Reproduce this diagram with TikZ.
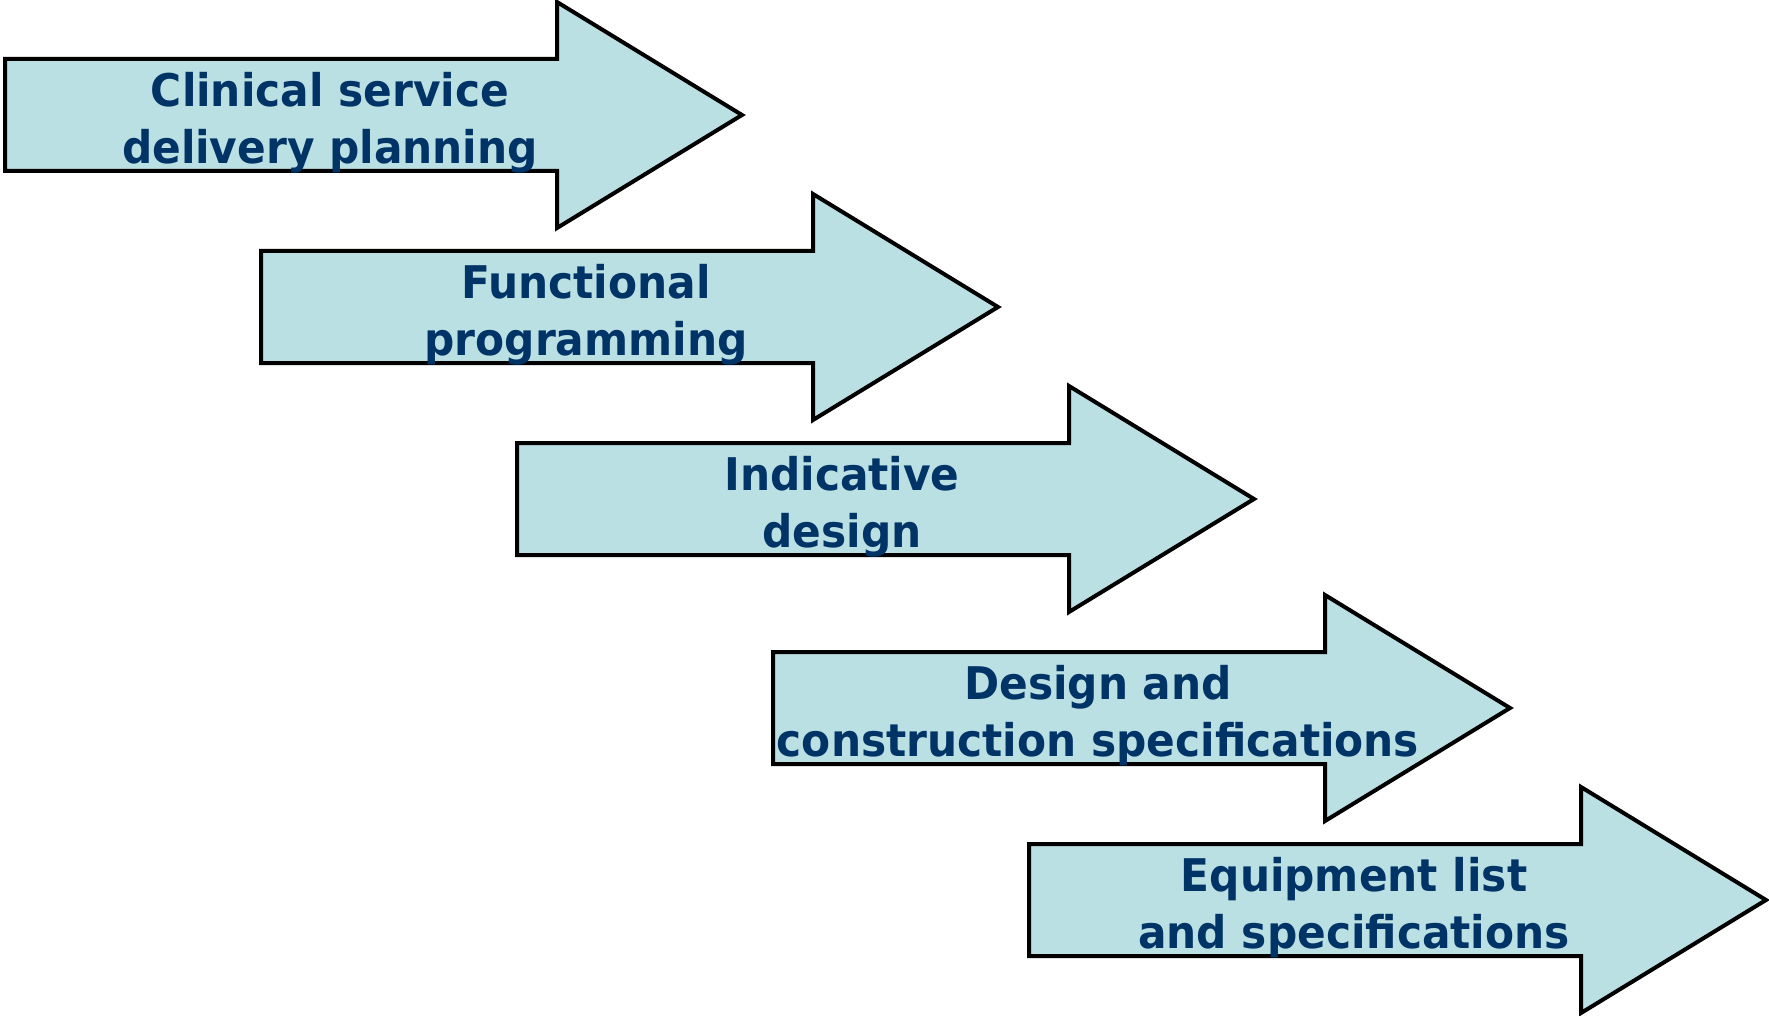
\documentclass[tikz,border=0pt]{standalone}
\usepackage{fontspec}
\newfontfamily\labfont{DejaVu Sans Condensed}[BoldFont={DejaVu Sans Condensed Bold},BoldFeatures={FakeStretch=1.045}]
\definecolor{arrowfill}{HTML}{BBE0E3}
\definecolor{labelblue}{HTML}{003366}
\tikzset{
  stagearrow/.style={draw=black, line width=4pt, fill=arrowfill, line join=miter},
  stagelabel/.style={text=labelblue, align=center, inner sep=0pt,
    font=\labfont\bfseries\fontsize{45}{57}\selectfont}
}
\newcommand{\stageshape}[2]{%
  \draw[stagearrow] (#1,#2-56) -- ++(552,0) -- ++(0,-57) -- (#1+737,#2) -- (#1+552,#2+113) -- ++(0,-57) -- (#1,#2+56) -- cycle;}
\begin{document}
\begin{tikzpicture}[x=1pt,y=-1pt]
\useasboundingbox (0,0) rectangle (1769,1016);
\stageshape{5}{115}
\stageshape{261}{307}
\stageshape{517}{499}
\stageshape{773}{708}
\stageshape{1029}{900}
\node[stagelabel] (s1) at (330,122.5) {Clinical service\\delivery planning};
\node[stagelabel] (s2) at (586,314.5) {Functional\\programming};
\node[stagelabel] (s3) at (842,506.5) {Indicative\\design};
\node[stagelabel] (s4) at (1098,715.5) {Design and\\construction specifications};
\node[stagelabel] (s5) at (1354,907.5) {Equipment list\\and specifications};
\end{tikzpicture}
\end{document}
